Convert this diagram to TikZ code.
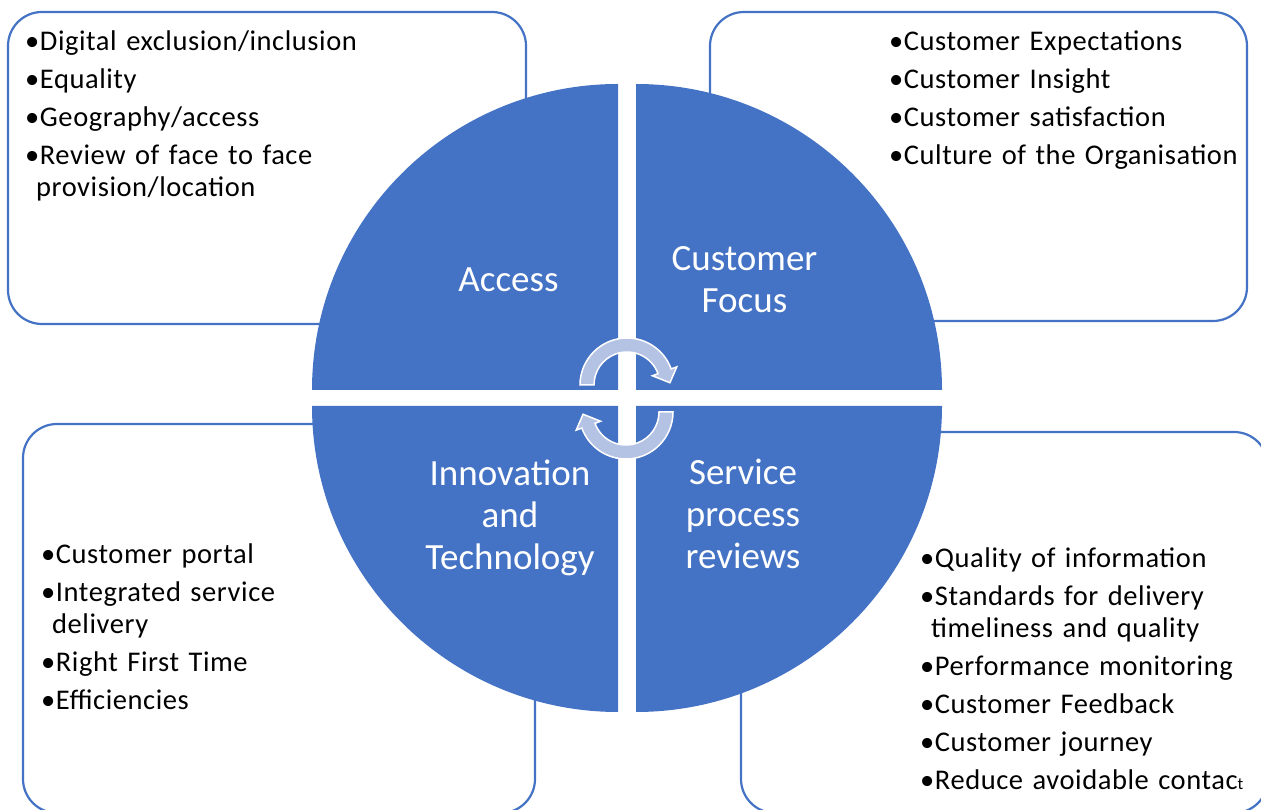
\documentclass[tikz,border=0pt]{standalone}
\usepackage{fontspec}
\setmainfont{Carlito}
\newfontfamily\listfont[LetterSpace=2]{Carlito}

\definecolor{quadblue}{RGB}{68,114,196}
\definecolor{arrowblue}{RGB}{180,194,228}

% one bullet point, wrapped lines hang under the text
\newcommand\bitem[1]{\hangindent=11pt\hangafter=1\textbullet#1\par\vspace{6.5pt}}

\tikzset{
  infobox/.style={draw=quadblue, line width=2.2pt, fill=white, rounded corners=34pt},
  quad/.style={fill=quadblue},
  quadlabel/.style={text=white, font=\fontsize{37}{42}\selectfont, align=center, inner sep=0pt},
  itemlist/.style={font=\listfont\fontsize{28.5}{31.5}\selectfont, text width=#1,
    align=left, inner sep=0pt, anchor=base west},
  cyclearrow/.style={fill=arrowblue, draw=white, line width=1.5pt},
  turnarrow/.pic={
    \path[cyclearrow] (180:47) arc[start angle=180, end angle=20, radius=47]
      -- (20:53) -- (3:43) -- (20:27) -- (20:33)
      arc[start angle=20, end angle=180, radius=33] -- cycle;
  }
}

\begin{document}
\begin{tikzpicture}[x=1pt, y=1pt]
  \useasboundingbox (0,0) rectangle (1261,809);
  \clip (0,0) rectangle (1261,809);

  % boxes behind the circle
  \draw[infobox] (8,485) rectangle (526,797);
  \draw[infobox] (710,488) rectangle (1247,797);
  \draw[infobox] (23,-4) rectangle (535,385);
  \draw[infobox] (741,-4) rectangle (1268,377);

  % the four quarters
  \fill[quad] (618,419) -- (312,419) arc[start angle=180, end angle=90, radius=306] -- cycle;
  \fill[quad] (636,419) -- (636,725) arc[start angle=90, end angle=0, radius=306] -- cycle;
  \fill[quad] (618,403) -- (618,97) arc[start angle=270, end angle=180, radius=306] -- cycle;
  \fill[quad] (636,403) -- (942,403) arc[start angle=0, end angle=-90, radius=306] -- cycle;

  \node[quadlabel, anchor=base] (access) at (508.5,517) {Access};
  \node[quadlabel] (focus) at (744.5,529) {Customer\\Focus};
  \node[quadlabel] (innov) at (510,291) {Innovation\\and\\Technology};
  \node[quadlabel] (service) at (743,295) {Service\\process\\reviews};

  % cycle arrows in the middle
  \pic at (627,424) {turnarrow};
  \pic[rotate=180] at (626,397) {turnarrow};

  % bullet lists
  \node[itemlist=480pt] (accessitems) at (25,758) {%
    \bitem{Digital exclusion/inclusion}
    \bitem{Equality}
    \bitem{Geography/access}
    \bitem{Review of face to face\newline provision/location}};
  \node[itemlist=360pt] (focusitems) at (889,758) {%
    \bitem{Customer Expectations}
    \bitem{Customer Insight}
    \bitem{Customer satisfaction}
    \bitem{Culture of the Organisation}};
  \node[itemlist=460pt] (innovitems) at (41,245) {%
    \bitem{Customer portal}
    \bitem{Integrated service\newline delivery}
    \bitem{Right First Time}
    \bitem{Efficiencies}};
  \node[itemlist=335pt] (serviceitems) at (920,241) {%
    \bitem{Quality of information}
    \bitem{Standards for delivery\newline timeliness and quality}
    \bitem{Performance monitoring}
    \bitem{Customer Feedback}
    \bitem{Customer journey}
    \bitem{Reduce avoidable contac{\fontsize{17}{17}\selectfont t}}};
\end{tikzpicture}
\end{document}
